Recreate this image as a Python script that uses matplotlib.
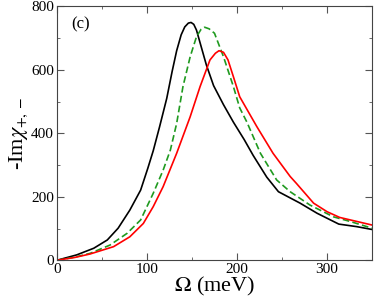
import matplotlib
matplotlib.use("Agg")
import matplotlib.pyplot as plt
from matplotlib.ticker import MultipleLocator

# black solid curve
black_w = [0, 22, 41, 56, 68, 81, 93, 101, 107, 114, 122, 128, 133, 138, 142, 146, 149,
           152, 155, 159, 166, 174, 185, 196, 208, 218, 233, 246, 270, 289, 313, 333, 350]
black_y = [0, 17, 38, 64, 101, 158, 221, 290, 345, 420, 510, 595, 660, 710, 735, 747, 749,
           743, 725, 685, 615, 550, 490, 435, 380, 330, 262, 216, 180, 148, 114, 106, 97]

# green dashed curve
green_w = [0, 20, 37, 59, 78, 93, 107, 118, 126, 133, 140, 148, 155, 160, 164, 169,
           175, 185, 196, 203, 211, 226, 244, 259, 281, 307, 326, 350]
green_y = [0, 10, 22, 48, 85, 127, 211, 284, 347, 431, 547, 641, 704, 727, 734, 729,
           715, 641, 547, 480, 435, 337, 253, 216, 174, 137, 122, 101]

# red solid curve
red_w = [0, 20, 37, 63, 81, 96, 107, 118, 133, 148, 159, 170, 176, 180, 185, 190,
         196, 203, 222, 240, 259, 266, 285, 300, 314, 350]
red_y = [0, 9, 20, 43, 74, 116, 169, 232, 337, 452, 547, 631, 652, 660, 655, 631,
         578, 515, 421, 337, 264, 242, 180, 153, 135, 111]

plt.rcParams['font.family'] = ['Liberation Serif', 'DejaVu Serif']
plt.rcParams['mathtext.fontset'] = 'stix'

fig = plt.figure(figsize=(3.74, 2.98), dpi=100)
ax = fig.add_axes([0.152, 0.1265, 0.843, 0.8525])

ax.plot(black_w, black_y, color='black', lw=1.2)
ax.plot(green_w, green_y, color='#1f9a1f', lw=1.2, ls=(0, (4, 2)))
ax.plot(red_w, red_y, color='red', lw=1.2)

ax.set_xlim(0, 350)
ax.set_ylim(0, 800)
ax.xaxis.set_major_locator(MultipleLocator(100))
ax.xaxis.set_minor_locator(MultipleLocator(50))
ax.yaxis.set_major_locator(MultipleLocator(200))
ax.yaxis.set_minor_locator(MultipleLocator(100))
ax.tick_params(which='both', direction='in', top=True, right=True, labelsize=11,
               color='#555555', pad=2)
ax.tick_params(which='major', length=5)
ax.tick_params(which='minor', length=2.5)
for s in ax.spines.values():
    s.set_color('#444444')
    s.set_linewidth(0.8)

ax.set_xlabel(r'$\Omega$ (meV)', fontsize=16, labelpad=-1)
ax.set_ylabel(r'-Im$\chi_{+,-}$', fontsize=16, labelpad=1)
ax.text(0.045, 0.93, '(c)', transform=ax.transAxes, fontsize=12, va='center')

fig.savefig('out.png', dpi=100)
